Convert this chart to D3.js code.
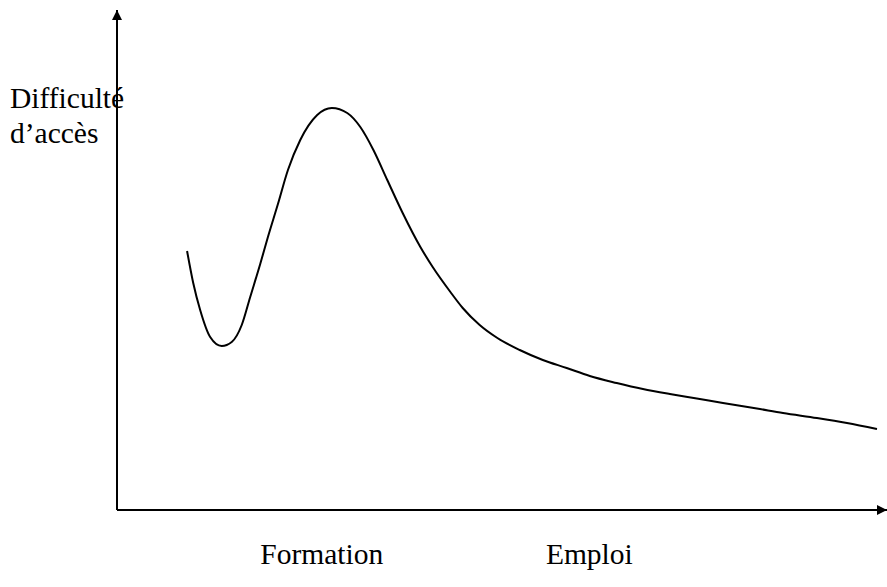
<!DOCTYPE html>
<html>
<head>
<meta charset="utf-8">
<script src="https://cdn.jsdelivr.net/npm/d3@7"></script>
<style>
  body { margin: 0; background: #fff; }
  text { font-family: "Liberation Serif", "Times New Roman", serif; fill: #000; }
</style>
</head>
<body>
<div id="chart"></div>
<script>
// courbe : difficulté d'accès (0-100) selon la position (0-100)
const positions = [9.1, 9.9, 10.8, 12.1, 13.6, 14.9, 16.2, 17.3, 18.6, 19.6, 20.9, 22.2, 23.8, 26.0, 27.9,
  29.9, 31.6, 33.3, 35.1, 37.1, 39.4, 41.0, 43.3, 44.9, 47.1, 49.4, 52.3, 55.3, 58.4, 61.4,
  64.9, 68.3, 71.8, 75.3, 78.7, 83.1, 86.5, 90.9, 94.8, 98.7];
const difficulte = [51.8, 45.4, 40.0, 34.6, 32.8, 33.6, 37.0, 42.6, 49.2, 54.6, 61.2, 68.0, 74.0, 79.0, 80.4,
  79.4, 76.6, 72.0, 66.0, 59.4, 52.6, 48.6, 43.6, 40.4, 37.0, 34.4, 32.0, 30.0, 28.4, 26.8,
  25.4, 24.2, 23.2, 22.3, 21.4, 20.3, 19.4, 18.4, 17.4, 16.2];
const yLabel = ["Difficulté", "d\u2019accès"];
const xLabels = ["Formation", "Emploi"];
const xLabelPos = [18.6, 55.7];

const width = 887, height = 587;
const margin = {top: 10, right: 0, bottom: 77, left: 117};

const svg = d3.select("#chart")
    .append("svg")
    .attr("width", width)
    .attr("height", height);

const x = d3.scaleLinear().domain([0, 100]).range([margin.left, width - margin.right]);
const y = d3.scaleLinear().domain([0, 100]).range([height - margin.bottom, margin.top]);

// axes avec flèches
svg.append("defs").append("marker")
    .attr("id", "arrow")
    .attr("viewBox", "0 0 10 10")
    .attr("refX", 10).attr("refY", 5)
    .attr("markerWidth", 12).attr("markerHeight", 10)
    .attr("markerUnits", "userSpaceOnUse")
    .attr("orient", "auto")
    .append("path")
    .attr("d", "M0,0L10,5L0,10Z")
    .attr("fill", "#000");

svg.append("line")
    .attr("x1", x(0)).attr("y1", y(0))
    .attr("x2", x(0)).attr("y2", y(100))
    .attr("stroke", "#000").attr("stroke-width", 2)
    .attr("marker-end", "url(#arrow)");

svg.append("line")
    .attr("x1", x(0)).attr("y1", y(0))
    .attr("x2", x(100)).attr("y2", y(0))
    .attr("stroke", "#000").attr("stroke-width", 2)
    .attr("marker-end", "url(#arrow)");

// courbe
const line = d3.line()
    .x((d, i) => x(positions[i]))
    .y(d => y(d))
    .curve(d3.curveMonotoneX);

svg.append("path")
    .datum(difficulte)
    .attr("fill", "none")
    .attr("stroke", "#000")
    .attr("stroke-width", 2)
    .attr("d", line);

// libellés
svg.append("text")
    .attr("x", 10).attr("y", 108)
    .attr("font-size", 29.5)
    .selectAll("tspan")
    .data(yLabel)
    .join("tspan")
    .attr("x", 10)
    .attr("dy", (d, i) => i ? 35 : 0)
    .text(d => d);

svg.selectAll(".xlab")
    .data(xLabels)
    .join("text")
    .attr("class", "xlab")
    .attr("x", (d, i) => x(xLabelPos[i]))
    .attr("y", 564)
    .attr("font-size", 29.5)
    .text(d => d);
</script>
</body>
</html>
